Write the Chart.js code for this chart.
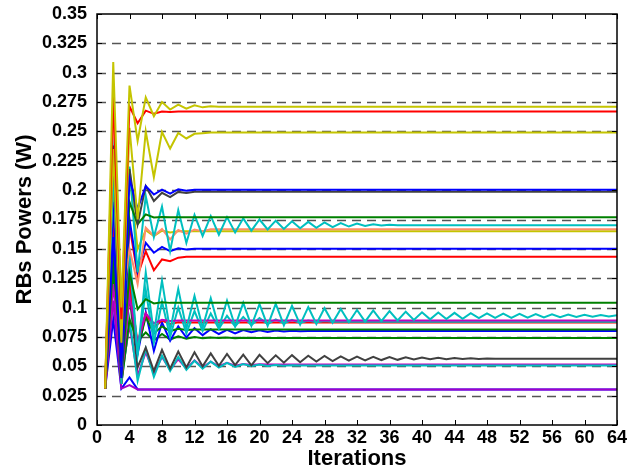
<!DOCTYPE html>
<html>
<head>
<meta charset="utf-8">
<script src="https://cdn.jsdelivr.net/npm/chart.js@4.4.1/dist/chart.umd.min.js"></script>
<style>
  html, body { margin: 0; padding: 0; background: #fff; }
  #wrap { width: 640px; height: 472px; }
</style>
</head>
<body>
<div id="wrap"><canvas id="powerChart" width="640" height="472"></canvas></div>
<script>
// tick values
const xTicks = [0, 4, 8, 12, 16, 20, 24, 28, 32, 36, 40, 44, 48, 52, 56, 60, 64];
const yTicks = [0, 0.025, 0.05, 0.075, 0.1, 0.125, 0.15, 0.175, 0.2, 0.225, 0.25, 0.275, 0.3, 0.325, 0.35];
const lastIter = 64;

// RB power per iteration, starting at iteration 1 (flat tail held to iteration 64)
const yellow1 = [0.031, 0.309, 0.10, 0.289, 0.242, 0.279, 0.263, 0.275, 0.2686, 0.2728, 0.2694, 0.2722, 0.2705, 0.2715, 0.271];
const red1 = [0.031, 0.28, 0.09, 0.2714, 0.257, 0.2677, 0.265, 0.267, 0.2666, 0.267];
const yellow2 = [0.031, 0.235, 0.07, 0.253, 0.175, 0.250, 0.211, 0.2495, 0.2354, 0.2487, 0.244, 0.248, 0.2485, 0.249];
const blue1 = [0.031, 0.16, 0.05, 0.21, 0.184, 0.2034, 0.1963, 0.2005, 0.197, 0.2008, 0.1995, 0.2003];
const gray1 = [0.031, 0.238, 0.05, 0.218, 0.171, 0.2034, 0.1907, 0.1977, 0.194, 0.1985, 0.1975, 0.1986];
const green1 = [0.031, 0.14, 0.06, 0.19, 0.171, 0.1794, 0.1768, 0.1772, 0.177];
const cyan1 = [0.031, 0.215, 0.07, 0.22, 0.13, 0.195, 0.16, 0.186, 0.148, 0.183, 0.155, 0.179, 0.161, 0.178,
  0.162, 0.177, 0.164, 0.176, 0.1655, 0.175, 0.1665, 0.174, 0.167, 0.1735, 0.1675, 0.173, 0.168, 0.1725,
  0.1685, 0.172, 0.169, 0.1715, 0.1695, 0.171, 0.1698, 0.1705, 0.170];
const salmon1 = [0.031, 0.27, 0.10, 0.15, 0.12, 0.168, 0.161, 0.167, 0.158, 0.166, 0.163, 0.1665, 0.165, 0.1666];
const yellow3 = [0.031, 0.22, 0.05, 0.215, 0.1496, 0.166, 0.161, 0.1655, 0.164, 0.165];
const blue2 = [0.031, 0.19, 0.04, 0.175, 0.131, 0.1552, 0.1467, 0.1517, 0.148, 0.1505, 0.1495, 0.150];
const red2 = [0.031, 0.22, 0.05, 0.17, 0.127, 0.148, 0.1318, 0.141, 0.1395, 0.1425, 0.1433];
const green2 = [0.031, 0.16, 0.04, 0.13, 0.0986, 0.1071, 0.1035, 0.1045, 0.104];
const cyan2 = [0.031, 0.25, 0.04, 0.15, 0.06, 0.13, 0.078, 0.123, 0.080, 0.116, 0.082, 0.110, 0.083, 0.108,
  0.083, 0.106, 0.084, 0.104, 0.0845, 0.103, 0.0845, 0.1032, 0.085, 0.1015, 0.0855, 0.1005, 0.086, 0.0995,
  0.087, 0.0988, 0.0875, 0.098, 0.088, 0.0975, 0.0885, 0.097, 0.089, 0.0965, 0.0895, 0.096, 0.090, 0.0958,
  0.0902, 0.0955, 0.0905, 0.0952, 0.091, 0.095, 0.0912, 0.0948, 0.0913, 0.0946, 0.0915, 0.0944, 0.0916,
  0.0942, 0.0918, 0.094, 0.092, 0.0938, 0.0922, 0.0936, 0.0925, 0.0935];
const magenta1 = [0.031, 0.12, 0.04, 0.11, 0.07, 0.095, 0.0865, 0.0895, 0.0885, 0.089];
const cyan3 = [0.031, 0.2, 0.035, 0.14, 0.06, 0.115, 0.07, 0.105, 0.075, 0.1, 0.078, 0.097, 0.08, 0.095,
  0.082, 0.093, 0.084, 0.092, 0.085, 0.091, 0.086, 0.090, 0.0865, 0.0895, 0.087, 0.089, 0.0875, 0.0885, 0.088];
const red3 = [0.031, 0.17, 0.035, 0.12, 0.07, 0.095, 0.083, 0.089, 0.086, 0.0875, 0.0873];
const green3 = [0.031, 0.15, 0.04, 0.115, 0.065, 0.092, 0.078, 0.084, 0.080, 0.082, 0.081, 0.0813];
const blue3 = [0.031, 0.2, 0.04, 0.13, 0.0606, 0.0958, 0.0632, 0.0873, 0.0717, 0.084, 0.0745, 0.0825, 0.0765,
  0.0815, 0.0775, 0.081, 0.078, 0.0808, 0.079, 0.0806, 0.0792, 0.0804, 0.0796, 0.0802, 0.0798, 0.080];
const green4 = [0.031, 0.13, 0.035, 0.09, 0.0717, 0.0788, 0.072, 0.0776, 0.0728, 0.0755, 0.0735, 0.075,
  0.0738, 0.0745, 0.074, 0.0745, 0.0738, 0.0742, 0.074];
const gray2 = [0.031, 0.18, 0.045, 0.11, 0.049, 0.066, 0.046, 0.064, 0.048, 0.0625, 0.049, 0.062, 0.050,
  0.061, 0.0505, 0.0605, 0.051, 0.060, 0.0508, 0.0598, 0.0527, 0.0593, 0.053, 0.0595, 0.0535, 0.059, 0.054,
  0.0588, 0.0545, 0.0585, 0.0548, 0.0582, 0.055, 0.058, 0.0553, 0.0578, 0.0555, 0.0576, 0.0558, 0.0574,
  0.056, 0.0572, 0.0561, 0.057, 0.0562, 0.0568, 0.0563, 0.0566, 0.0564];
const magenta2 = [0.031, 0.14, 0.04, 0.085, 0.042, 0.062, 0.044, 0.058, 0.047, 0.056, 0.048, 0.055, 0.049,
  0.054, 0.050, 0.053, 0.0505, 0.052, 0.051, 0.0518, 0.0516];
const cyan4 = [0.031, 0.16, 0.035, 0.09, 0.0377, 0.065, 0.041, 0.059, 0.046, 0.058, 0.047, 0.0547, 0.048,
  0.054, 0.049, 0.053, 0.0495, 0.052, 0.050, 0.0515, 0.0502, 0.051, 0.0505, 0.0508, 0.0507];
const purple1 = [0.031, 0.106, 0.031, 0.034, 0.0303];
const blue4 = [0.031, 0.09, 0.031, 0.0405, 0.0303];

const YEL = '#c4c400', RED = '#ff0000', BLU = '#0000ff', GRY = '#404040', GRN = '#008000',
      CYN = '#00bfbf', MAG = '#bf00bf', SAL = '#ff8c6a', PUR = '#a000c8';

// first entry ends up on top
const series = [
  [yellow1, YEL], [red1, RED], [yellow2, YEL], [blue1, BLU], [gray1, GRY], [green1, GRN],
  [cyan1, CYN], [salmon1, SAL], [yellow3, YEL], [blue2, BLU], [red2, RED], [green2, GRN],
  [cyan2, CYN], [magenta1, MAG], [cyan3, CYN], [red3, RED], [green3, GRN], [blue3, BLU],
  [green4, GRN], [gray2, GRY], [cyan4, CYN], [magenta2, MAG], [purple1, PUR], [blue4, BLU]
];

const toPoints = (vals) => {
  const pts = vals.map((v, k) => ({ x: k + 1, y: v }));
  if (vals.length < lastIter) pts.push({ x: lastIter, y: vals[vals.length - 1] });
  return pts;
};

const datasets = series.map(([vals, col]) => ({
  data: toPoints(vals),
  borderColor: col,
  borderWidth: 2,
  pointRadius: 0,
  tension: 0,
  fill: false
}));

// dashed grid, box and inward ticks
const matlabAxes = {
  id: 'matlabAxes',
  beforeDatasetsDraw(chart) {
    const { ctx, chartArea: a, scales: { y } } = chart;
    ctx.save();
    ctx.strokeStyle = '#555';
    ctx.lineWidth = 1.5;
    ctx.setLineDash([9, 6]);
    yTicks.slice(1, -1).forEach(v => {
      const py = Math.round(y.getPixelForValue(v)) + 0.5;
      ctx.beginPath();
      ctx.moveTo(a.left, py);
      ctx.lineTo(a.right, py);
      ctx.stroke();
    });
    ctx.restore();
  },
  afterDraw(chart) {
    const { ctx, chartArea: a, scales: { x, y } } = chart;
    ctx.save();
    ctx.strokeStyle = '#000';
    ctx.lineWidth = 1.5;
    ctx.strokeRect(a.left, a.top, a.right - a.left, a.bottom - a.top);
    ctx.lineWidth = 1;
    const t = 5;
    ctx.beginPath();
    xTicks.forEach(v => {
      const px = Math.round(x.getPixelForValue(v)) + 0.5;
      ctx.moveTo(px, a.bottom); ctx.lineTo(px, a.bottom - t);
      ctx.moveTo(px, a.top); ctx.lineTo(px, a.top + t);
    });
    yTicks.forEach(v => {
      const py = Math.round(y.getPixelForValue(v)) + 0.5;
      ctx.moveTo(a.left, py); ctx.lineTo(a.left + t, py);
      ctx.moveTo(a.right, py); ctx.lineTo(a.right - t, py);
    });
    ctx.stroke();
    ctx.restore();
  }
};

const tickFont = { family: 'Liberation Sans, Arial, sans-serif', size: 18, weight: 'bold' };
const titleFont = { family: 'Liberation Sans, Arial, sans-serif', size: 22, weight: 'bold' };

new Chart(document.getElementById('powerChart'), {
  type: 'line',
  data: { datasets },
  options: {
    responsive: false,
    animation: false,
    events: [],
    layout: { padding: { top: 14, right: 23, left: 0, bottom: 0 } },
    plugins: { legend: { display: false }, tooltip: { enabled: false } },
    scales: {
      x: {
        type: 'linear',
        min: 0,
        max: 64,
        afterBuildTicks: (s) => { s.ticks = xTicks.map(v => ({ value: v })); },
        afterFit: (s) => { s.height = 47; s.paddingLeft = 0; s.paddingRight = 0; },
        grid: { display: false, drawTicks: false },
        border: { display: false },
        ticks: { color: '#000', font: tickFont, padding: 2, maxRotation: 0, autoSkip: false },
        title: { display: true, text: 'Iterations', color: '#000', font: titleFont, padding: { top: 0, bottom: 0 } }
      },
      y: {
        type: 'linear',
        min: 0,
        max: 0.35,
        afterBuildTicks: (s) => { s.ticks = yTicks.map(v => ({ value: v })); },
        afterFit: (s) => { s.width = 97; s.paddingTop = 0; s.paddingBottom = 0; },
        grid: { display: false, drawTicks: false },
        border: { display: false },
        ticks: {
          color: '#000', font: tickFont, padding: 10, autoSkip: false,
          callback: (v) => String(parseFloat(Number(v).toFixed(3)))
        },
        title: { display: true, text: 'RBs Powers (W)', color: '#000', font: titleFont, padding: { top: 12, bottom: 0 } }
      }
    }
  },
  plugins: [matlabAxes]
});
</script>
</body>
</html>
